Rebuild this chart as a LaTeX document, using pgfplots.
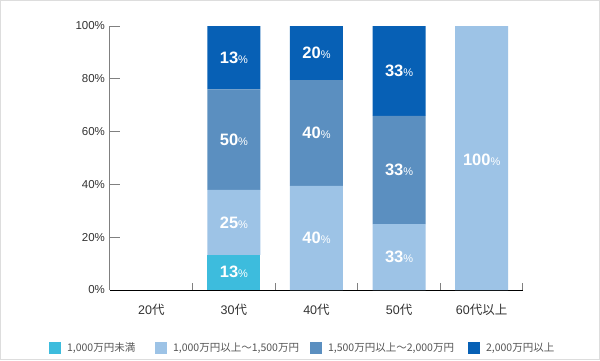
\documentclass[border=0pt]{standalone}
\usepackage{pgfplots}
\pgfplotsset{compat=1.18}
\usepackage{fontspec}
\setmainfont{Liberation Sans}
\newfontfamily\cjk{Noto Sans CJK JP}
\definecolor{cA}{HTML}{3DBCDD}
\definecolor{cB}{HTML}{9DC3E6}
\definecolor{cC}{HTML}{5B8FC0}
\definecolor{cD}{HTML}{0760B5}
\definecolor{txt}{HTML}{333333}
\definecolor{legtxt}{HTML}{555555}
\definecolor{frame}{HTML}{DDDDDD}
\pgfplotsset{leg/.style={legend image code/.code={\fill[##1,draw=none] (0pt,-6pt) rectangle (12pt,6pt);}}}
\begin{document}
\begin{tikzpicture}
\useasboundingbox (0,0) rectangle (600pt,360pt);
\fill[white] (0,0) rectangle (600pt,360pt);
\draw[line width=1pt, frame] (0.5pt,0.5pt) rectangle (599.5pt,359.5pt);
\begin{axis}[
  at={(110pt,70pt)}, anchor=south west,
  scale only axis, width=413pt, height=264pt,
  xmin=-0.5, xmax=4.5, ymin=0, ymax=100,
  ybar stacked, bar width=53pt,
  axis x line*=bottom, axis y line*=left,
  x axis line style={black, line width=1pt},
  y axis line style={gray, line width=1pt},
  xtick={0,1,2,3,4},
  xticklabels={20{\cjk 代},30{\cjk 代},40{\cjk 代},50{\cjk 代},60{\cjk 代以上}},
  xtick style={draw=none},
  minor xtick={0.5,1.5,2.5,3.5,4.5},
  minor x tick style={draw=gray, line width=1pt},
  minor tick length=7pt, major tick length=10pt, tick align=inside,
  ytick={0,20,40,60,80,100},
  yticklabels={0\%,20\%,40\%,60\%,80\%,100\%},
  y tick style={draw=gray, line width=1pt},
  tick label style={font=\fontsize{11.5}{12}\selectfont, text=txt},
  y tick label style={xshift=-1.5pt},
  x tick label style={font=\fontsize{12.5}{13}\selectfont, yshift=-11pt},
  legend columns=4,
  legend cell align=left,
  legend style={at={(-0.148,-0.22)}, anchor=west, draw=none, fill=none,
    inner sep=0pt, nodes={inner sep=0pt},
    font=\cjk\fontsize{10.5}{12}\selectfont, text=legtxt},
]
\addplot[fill=cA, draw=none, leg] coordinates {(0,0) (1,13.3) (2,0) (3,0) (4,0)};
\addplot[fill=cB, draw=none, leg] coordinates {(0,0) (1,24.6) (2,39.4) (3,25) (4,100)};
\addplot[fill=cC, draw=none, leg] coordinates {(0,0) (1,38.1) (2,40.1) (3,41) (4,0)};
\addplot[fill=cD, draw=none, leg] coordinates {(0,0) (1,24) (2,20.5) (3,34) (4,0)};
\legend{{\hspace{6pt}\makebox[88pt][l]{1,000万円未満}},
        {\hspace{6pt}\makebox[137pt][l]{1,000万円以上～1,500万円}},
        {\hspace{6pt}\makebox[140pt][l]{1,500万円以上～2,000万円}},
        {\hspace{6pt}2,000万円以上}}
\end{axis}
\begin{axis}[
  at={(110pt,70pt)}, anchor=south west,
  scale only axis, width=413pt, height=264pt,
  xmin=-0.5, xmax=4.5, ymin=0, ymax=100,
  hide axis, clip=false]
\addplot[only marks, mark=*, mark size=0pt, mark options={draw=none,fill=none},
  point meta=explicit symbolic,
  nodes near coords={\pgfplotspointmeta{\fontsize{11}{11}\selectfont\mdseries\%}},
  every node near coord/.style={anchor=center, text=white, font=\bfseries\fontsize{16.5}{16}\selectfont}]
  coordinates {
  (1,6.8) [13] (1,25.4) [25] (1,56.8) [50] (1,87.9) [13]
  (2,19.7) [40] (2,59.5) [40] (2,89.8) [20]
  (3,12.5) [33] (3,45.5) [33] (3,83) [33]
  (4,49.2) [100]
  };
\end{axis}
\end{tikzpicture}
\end{document}
